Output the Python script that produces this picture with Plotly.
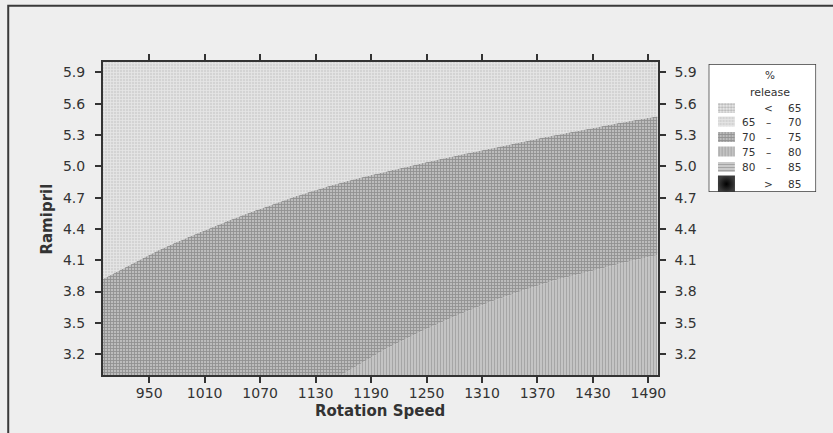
import plotly.graph_objects as go

# ---------------- data ----------------
X_RANGE = [900, 1500]          # Rotation Speed axis
Y_RANGE = [3.0, 6.0]           # Ramipril axis
x_ticks = [950, 1010, 1070, 1130, 1190, 1250, 1310, 1370, 1430, 1490]
y_ticks = [3.2, 3.5, 3.8, 4.1, 4.4, 4.7, 5.0, 5.3, 5.6, 5.9]

# 70 % release contour (border between 65-70 and 70-75)
c70_speed = [900, 961, 997, 1033, 1069, 1104, 1140, 1176, 1211, 1247, 1283, 1319, 1354, 1390, 1426, 1461, 1500]
c70_ramipril = [3.92, 4.20, 4.34, 4.47, 4.59, 4.70, 4.80, 4.885, 4.96, 5.035, 5.105, 5.17, 5.235, 5.30, 5.36, 5.42, 5.48]

# 75 % release contour (border between 70-75 and 75-80)
c75_speed = [1158, 1206, 1247, 1283, 1319, 1354, 1390, 1426, 1461, 1500]
c75_ramipril = [3.00, 3.25, 3.43, 3.57, 3.70, 3.81, 3.91, 3.99, 4.07, 4.15]

# legend categories (% release)
legend_low = ["", "65", "70", "75", "80", ""]
legend_sym = ["<", "\u2013", "\u2013", "\u2013", "\u2013", ">"]
legend_high = ["65", "70", "75", "80", "85", "85"]

# ---------------- styles ----------------
W, H = 833, 433
PL, PR, PT, PB = 104, 664, 62, 375     # plot area in pixels
FONT = "DejaVu Sans"
TXT = "#333333"
BG = "#eeeeee"

pat = {
    "<65": dict(shape=".", fgcolor="#7a7a7a", bgcolor="#ececec", size=3, solidity=0.45),
    "65-70": dict(shape="+", fgcolor="#f7f7f7", bgcolor="#d3d3d3", size=3, solidity=0.5),
    "70-75": dict(shape="+", fgcolor="#666666", bgcolor="#bcbcbc", size=3, solidity=0.5),
    "75-80": dict(shape="|", fgcolor="#858585", bgcolor="#c7c7c7", size=3, solidity=0.4),
    "80-85": dict(shape="-", fgcolor="#7a7a7a", bgcolor="#cfcfcf", size=3, solidity=0.4),
}
pat_keys = ["<65", "65-70", "70-75", "75-80", "80-85"]

fig = go.Figure()

# baseline at the bottom of the plot
fig.add_trace(go.Scatter(x=X_RANGE, y=[Y_RANGE[0], Y_RANGE[0]], mode="lines",
                         line=dict(width=0), hoverinfo="skip", showlegend=False))
# 75-80 region (below the 75 % contour)
fig.add_trace(go.Scatter(x=[X_RANGE[0]] + c75_speed, y=[Y_RANGE[0]] + c75_ramipril,
                         mode="lines", line=dict(width=0),
                         fill="tonexty", fillcolor="#bcbcbc", fillpattern=pat["75-80"],
                         hoverinfo="skip", showlegend=False))
# 70-75 region (between the contours)
fig.add_trace(go.Scatter(x=c70_speed, y=c70_ramipril,
                         mode="lines", line=dict(width=0, shape="spline", smoothing=0.6),
                         fill="tonexty", fillcolor="#a0a0a0", fillpattern=pat["70-75"],
                         hoverinfo="skip", showlegend=False))
# 65-70 region (above the 70 % contour)
fig.add_trace(go.Scatter(x=X_RANGE, y=[Y_RANGE[1], Y_RANGE[1]],
                         mode="lines", line=dict(width=0),
                         fill="tonexty", fillcolor="#e0e0e0", fillpattern=pat["65-70"],
                         hoverinfo="skip", showlegend=False))
# dummy trace to activate the right-hand y axis
fig.add_trace(go.Scatter(x=[None], y=[None], yaxis="y2", showlegend=False, hoverinfo="skip"))

# ---------------- custom legend (pixel coordinate axes) ----------------
LX0, LX1, LY0, LY1 = 715.5, 824, 64, 192
row_y = [108, 121.5, 137, 151.5, 167, 184]
sw_x0, sw_x1 = 725, 742
for i, key in enumerate(pat_keys):
    y0, y1 = row_y[i] - 5, row_y[i] + 5
    fig.add_trace(go.Scatter(x=[sw_x0, sw_x1, sw_x1, sw_x0, sw_x0],
                             y=[y0, y0, y1, y1, y0], xaxis="x3", yaxis="y3",
                             mode="lines", line=dict(width=0), fill="toself",
                             fillcolor="#bbbbbb", fillpattern=pat[key],
                             hoverinfo="skip", showlegend=False))
# > 85 swatch: black with radial shading
fig.add_trace(go.Scatter(x=[(sw_x0 + sw_x1) / 2], y=[row_y[5]], xaxis="x3", yaxis="y3",
                         mode="markers",
                         marker=dict(symbol="square", size=17, color="#3c3c3c",
                                     gradient=dict(type="radial", color="#000000"),
                                     line=dict(width=0)),
                         hoverinfo="skip", showlegend=False))

ann = []
lf = dict(family=FONT, size=10.5, color=TXT)
ann.append(dict(x=777, y=75, xref="x3", yref="y3", text="%", showarrow=False,
                font=dict(family=FONT, size=10.5, color=TXT)))
ann.append(dict(x=777, y=92, xref="x3", yref="y3", text="release", showarrow=False,
                font=dict(family=FONT, size=11, color=TXT)))
for i in range(6):
    if legend_low[i]:
        ann.append(dict(x=764, y=row_y[i], xref="x3", yref="y3", text=legend_low[i],
                        xanchor="right", showarrow=False, font=lf))
    ann.append(dict(x=776, y=row_y[i], xref="x3", yref="y3", text=legend_sym[i],
                    xanchor="center", showarrow=False, font=lf))
    ann.append(dict(x=811, y=row_y[i], xref="x3", yref="y3", text=legend_high[i],
                    xanchor="right", showarrow=False, font=lf))

# axis titles
ann.append(dict(x=47 / W, y=(H - 219) / H, xref="paper", yref="paper", text="<b>Ramipril</b>",
                textangle=-90, xanchor="center", yanchor="middle", showarrow=False,
                font=dict(family=FONT, size=15, color=TXT)))
ann.append(dict(x=((PL + PR) / 2) / W, y=(H - 411) / H, xref="paper", yref="paper",
                text="<b>Rotation Speed</b>", xanchor="center", yanchor="middle",
                showarrow=False, font=dict(family=FONT, size=15, color=TXT)))

shapes = [
    # legend box
    dict(type="rect", xref="x3", yref="y3", x0=LX0, x1=LX1, y0=LY0, y1=LY1,
         fillcolor="white", line=dict(color="#3a3a3a", width=1.5), layer="below"),
    # outer frame
    dict(type="rect", xref="paper", yref="paper", x0=8.3 / W, x1=1.05,
         y0=-0.05, y1=(H - 5.8) / H, line=dict(color="#3a3a3a", width=2)),
]

axis_common = dict(showgrid=False, zeroline=False, ticks="outside", ticklen=6, tickwidth=1.5,
                   tickcolor="#333333", tickfont=dict(family=FONT, size=14, color=TXT))

fig.update_layout(
    width=W, height=H, autosize=False,
    margin=dict(l=0, r=0, t=0, b=0),
    paper_bgcolor=BG, plot_bgcolor=BG,
    showlegend=False,
    xaxis=dict(domain=[PL / W, PR / W], range=X_RANGE, tickvals=x_ticks,
               showline=True, linecolor="#333333", linewidth=2, mirror="ticks",
               anchor="y", ticklabelstandoff=-2, **axis_common),
    yaxis=dict(domain=[(H - PB) / H, (H - PT) / H], range=Y_RANGE, tickvals=y_ticks,
               tickformat=".1f", showline=True, linecolor="#333333", linewidth=2,
               mirror="ticks", anchor="x", ticklabelstandoff=7, **axis_common),
    yaxis2=dict(overlaying="y", side="right", range=Y_RANGE, tickvals=y_ticks,
                tickformat=".1f", showline=False, anchor="x", ticklabelstandoff=7,
                **axis_common),
    xaxis3=dict(domain=[LX0 / W, LX1 / W], range=[LX0, LX1], visible=False, fixedrange=True,
                anchor="y3"),
    yaxis3=dict(domain=[(H - LY1) / H, (H - LY0) / H], range=[LY1, LY0], visible=False,
                fixedrange=True, anchor="x3"),
    annotations=ann,
    shapes=shapes,
)

# remove the default page margin so the figure sits at the window's top-left corner
fig.write_html("out.html", config={"displayModeBar": False},
               post_script="document.body.style.margin='0';document.body.style.overflow='hidden';")
